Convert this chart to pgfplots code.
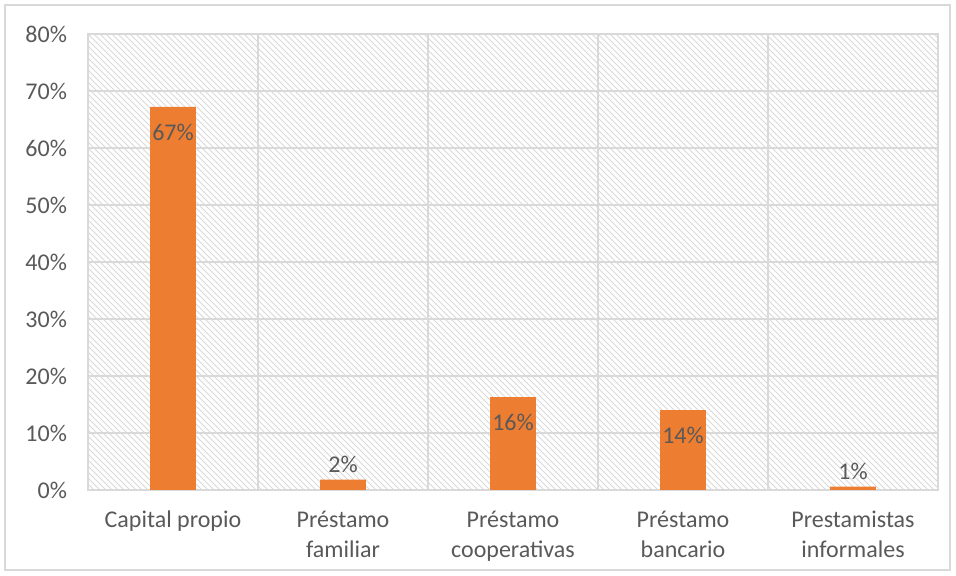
\documentclass[border=0pt]{standalone}
\usepackage{fontspec}
\setmainfont{Carlito}
\usepackage{pgfplots}
\pgfplotsset{compat=1.18}
\usetikzlibrary{patterns}
\definecolor{barorange}{HTML}{ED7D31}
\definecolor{gridgray}{HTML}{D9D9D9}
\definecolor{txtgray}{HTML}{595959}
\begin{document}
\begin{tikzpicture}
\useasboundingbox (0,0) rectangle (478pt,288pt);
\draw[gridgray, line width=0.8pt] (2.5pt,3pt) rectangle (475pt,285.5pt);
\begin{axis}[
  at={(44pt,43pt)}, anchor=south west,
  scale only axis, width=425pt, height=228pt,
  ymin=0, ymax=80, xmin=-0.5, xmax=4.5,
  ytick={0,10,...,80},
  yticklabel={\pgfmathprintnumber{\tick}\%},
  xtick={0,1,2,3,4},
  xticklabels={Capital propio, {Préstamo\\familiar}, {Préstamo\\cooperativas}, {Préstamo\\bancario}, {Prestamistas\\informales}},
  minor xtick={-0.5,0.5,...,4.5},
  ymajorgrids, xminorgrids,
  grid style={gridgray, line width=0.75pt},
  minor grid style={gridgray, line width=0.75pt},
  axis line style={gridgray, line width=0.75pt},
  major tick length=0pt, minor tick length=0pt,
  tick label style={font=\fontsize{12pt}{14pt}\selectfont, text=txtgray},
  xticklabel style={align=center, yshift=-7pt, font=\fontsize{12pt}{15pt}\selectfont},
  yticklabel style={xshift=-7pt},
  /pgf/number format/assume math mode=true,
  axis background/.style={pattern=north west lines, pattern color=gridgray},
  bar width=0.27,
]
\addplot[ybar, fill=barorange, draw=none,
  nodes near coords={\pgfmathprintnumber[fixed,precision=0]{\pgfplotspointmeta}\%},
  nodes near coords style={anchor=north, yshift=-5pt, font=\fontsize{12pt}{14pt}\selectfont, text=txtgray}]
  coordinates {(0,67.2) (2,16.3) (3,14.0)};
\addplot[ybar, fill=barorange, draw=none,
  nodes near coords={\pgfmathprintnumber[fixed,precision=0]{\pgfplotspointmeta}\%},
  nodes near coords style={anchor=south, yshift=0pt, font=\fontsize{12pt}{14pt}\selectfont, text=txtgray}]
  coordinates {(1,1.8) (4,0.6)};
\end{axis}
\end{tikzpicture}
\end{document}
